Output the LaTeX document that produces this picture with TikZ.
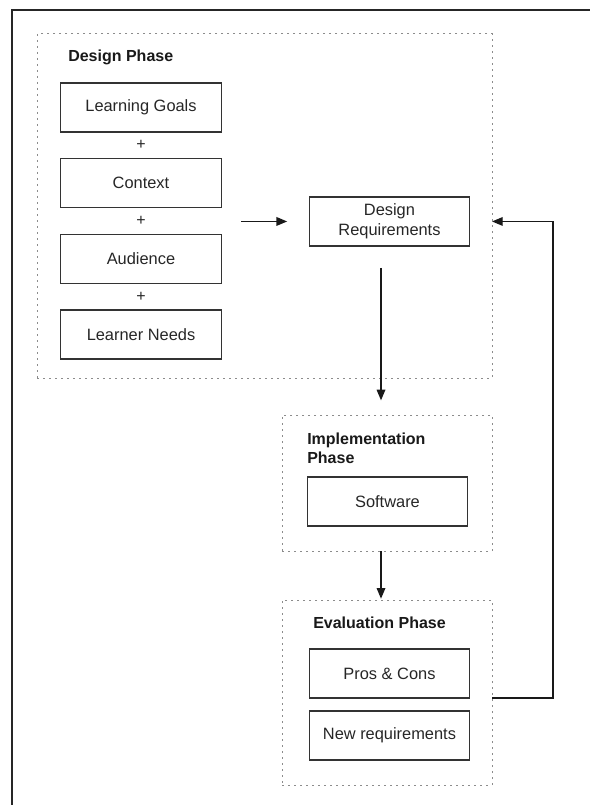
\documentclass[tikz,border=0pt]{standalone}
\usepackage{fontspec}
\setmainfont{Liberation Sans}
\usepackage{tikz}
\usetikzlibrary{positioning, arrows.meta, calc}

\begin{document}
\begin{tikzpicture}[
    x=1pt, y=1pt,
    >={Triangle[length=8pt, width=6.5pt]},
    box/.style={
        draw=black!80,
        line width=0.9pt,
        minimum width=120.5pt,
        minimum height=36.75pt,
        inner sep=0pt,
        outer sep=0pt,
        align=center,
        text=black!85,
        font=\fontsize{12.3}{15}\selectfont,
    },
    phase/.style={
        draw=black!45,
        line width=0.75pt,
        dash pattern=on 1.5pt off 3pt,
        inner sep=0pt,
        outer sep=0pt,
    },
    phase label/.style={
        font=\bfseries\fontsize{12}{14.5}\selectfont,
        text=black!90,
        align=left,
        inner sep=0pt,
        anchor=west,
    },
    plus/.style={
        font=\fontsize{12}{14}\selectfont,
        text=black!85,
        inner sep=0pt,
    },
    link/.style={
        ->,
        line width=0.9pt,
        draw=black!90,
    },
]
\useasboundingbox (0,0) rectangle (442.5,-603.75);

% --- Outer frame (left and top only) ---
\draw[line width=1.5pt, black!85] (9,-603.75) |- (442.5,-7.5);

% --- Design phase ---
\node[phase, minimum width=341.25pt, minimum height=258pt] (design) at (198.4,-154.5) {};
\node[phase label] at ([shift={(23.25,-17.25)}]design.north west) {Design Phase};

\node[box] (goals) at (105.75,-80.6) {Learning Goals};
\node[box, below=20pt of goals] (context) {Context};
\node[box, below=20pt of context] (audience) {Audience};
\node[box, below=20pt of audience] (needs) {Learner Needs};

\node[plus] at ($(goals.south)!0.5!(context.north)$) {+};
\node[plus] at ($(context.south)!0.5!(audience.north)$) {+};
\node[plus] at ($(audience.south)!0.5!(needs.north)$) {+};

\node[box] (req) at (292.1,-166.1) {Design\\Requirements};

% --- Implementation phase ---
\node[phase, minimum width=157.5pt, minimum height=102pt] (impl) at (290.25,-362.25) {};
\node[phase label] at ([shift={(18.75,-25.1)}]impl.north west) {Implementation\\Phase};
\node[box] (soft) at (290.6,-376.1) {Software};

% --- Evaluation phase ---
\node[phase, minimum width=157.5pt, minimum height=138.75pt] (eval) at (290.25,-519.4) {};
\node[phase label] at ([shift={(23.25,-17.25)}]eval.north west) {Evaluation Phase};
\node[box] (pros) at (292.1,-505.1) {Pros \& Cons};
\node[box, below=9.75pt of pros] (newreq) {New requirements};

% --- Connectors ---
\draw[link, shorten <=15pt, shorten >=16.5pt] (context.east |- req.west) -- (req.west);
\draw[link, shorten <=16.5pt, shorten >=11pt]
    ([xshift=-4.5pt]impl.north |- req.south) -- ([xshift=-4.5pt]impl.north);
\draw[link, shorten >=1pt] ([xshift=-4.5pt]impl.south) -- ([xshift=-4.5pt]eval.north);

% feedback loop back to the design phase
\coordinate (back) at ([xshift=45.75pt]design.east |- req.center);
\draw[link] (eval.east |- pros.south) -| (back) -- (design.east |- back);

\end{tikzpicture}
\end{document}
